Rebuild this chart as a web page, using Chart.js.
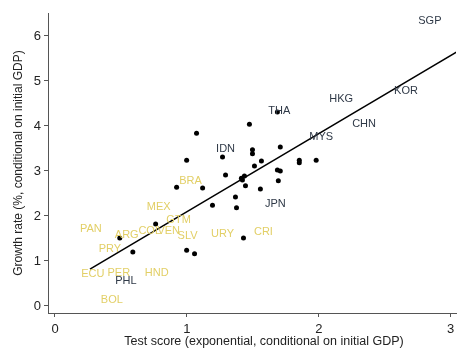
<!DOCTYPE html>
<html>
<head>
<meta charset="utf-8">
<script src="https://cdn.jsdelivr.net/npm/chart.js@4"></script>
<style>
  body { margin: 0; background: #fff; }
  canvas { display: block; }
</style>
</head>
<body>
<canvas id="chart" width="460" height="361"></canvas>
<script>
// unlabeled countries (black dots)
const dotX = [1.686, 1.474, 1.073, 0.998, 1.270, 1.497, 1.497, 1.708, 1.565, 1.512, 1.852, 1.852, 1.980,
  1.293, 1.413, 1.436, 1.421, 1.686, 1.708, 1.693, 1.444, 1.557, 0.922, 1.119, 1.368, 1.194, 1.376,
  1.429, 0.763, 0.491, 0.590, 0.998, 1.058];
const dotY = [4.31, 4.04, 3.84, 3.24, 3.31, 3.47, 3.38, 3.53, 3.22, 3.11, 3.24, 3.18, 3.24,
  2.91, 2.84, 2.89, 2.80, 3.02, 3.00, 2.78, 2.67, 2.60, 2.64, 2.62, 2.42, 2.24, 2.18,
  1.51, 1.82, 1.51, 1.20, 1.24, 1.16];

// labeled countries
const asiaCodes = ["SGP", "KOR", "HKG", "CHN", "MYS", "THA", "IDN", "JPN", "PHL"];
const asiaX = [2.842, 2.661, 2.169, 2.343, 2.018, 1.701, 1.293, 1.670, 0.537];
const asiaY = [6.33, 4.78, 4.60, 4.04, 3.76, 4.33, 3.49, 2.27, 0.56];

const latamCodes = ["BRA", "MEX", "GTM", "ARG", "COL", "VEN", "SLV", "URY", "CRI", "PAN", "PRY", "ECU", "PER", "HND", "BOL"];
const latamX = [1.028, 0.786, 0.937, 0.544, 0.718, 0.862, 1.005, 1.270, 1.580, 0.272, 0.416, 0.287, 0.484, 0.771, 0.431];
const latamY = [2.78, 2.20, 1.91, 1.58, 1.67, 1.67, 1.56, 1.60, 1.64, 1.71, 1.27, 0.71, 0.73, 0.73, 0.13];

// fitted line end points
const fitX = [0.265, 3.06];
const fitY = [0.82, 5.67];

const xTicks = [0, 1, 2, 3];
const yTicks = [0, 1, 2, 3, 4, 5, 6];

const xTitle = 'Test score (exponential, conditional on initial GDP)';
const yTitle = 'Growth rate (%, conditional on initial GDP)';

const FONT = 'Arial, "Liberation Sans", sans-serif';

const countryLabels = {
  id: 'countryLabels',
  afterDatasetsDraw(chart) {
    const ctx = chart.ctx;
    const xs = chart.scales.x, ys = chart.scales.y;
    const area = chart.chartArea;
    ctx.save();
    ctx.font = '11px ' + FONT;
    ctx.textAlign = 'center';
    ctx.textBaseline = 'middle';
    ctx.fillStyle = '#e2cf66';
    latamCodes.forEach((c, i) => ctx.fillText(c, xs.getPixelForValue(latamX[i]), ys.getPixelForValue(latamY[i])));
    ctx.fillStyle = '#2f3947';
    asiaCodes.forEach((c, i) => ctx.fillText(c, xs.getPixelForValue(asiaX[i]), ys.getPixelForValue(asiaY[i])));
    // x axis title (the original plot was wider, so it sits right of centre)
    ctx.font = '12.5px ' + FONT;
    ctx.fillStyle = '#222';
    ctx.fillText(xTitle, (area.left + area.right) / 2 + 12, area.bottom + 29);
    ctx.restore();
  }
};

new Chart(document.getElementById('chart'), {
  type: 'scatter',
  data: {
    datasets: [{
      data: dotX.map((x, i) => ({ x: x, y: dotY[i] })),
      backgroundColor: '#000',
      borderWidth: 0,
      pointRadius: 2.5
    }, {
      type: 'line',
      data: fitX.map((x, i) => ({ x: x, y: fitY[i] })),
      borderColor: '#000',
      borderWidth: 1.5,
      pointRadius: 0,
      fill: false
    }]
  },
  options: {
    responsive: false,
    animation: false,
    layout: { padding: { top: 13, right: 0, left: 0, bottom: 0 } },
    plugins: { legend: { display: false }, tooltip: { enabled: false } },
    scales: {
      x: {
        type: 'linear',
        min: -0.053,
        max: 3.04,
        afterBuildTicks: s => { s.ticks = xTicks.map(v => ({ value: v })); },
        afterFit: s => { s.height = 48; },
        grid: { drawOnChartArea: false, drawTicks: true, tickLength: 4, color: '#555' },
        border: { color: '#555', width: 1 },
        ticks: { color: '#222', font: { family: FONT, size: 13 }, maxRotation: 0, padding: 5 },
        title: { display: false }
      },
      y: {
        type: 'linear',
        min: -0.156,
        max: 6.51,
        afterBuildTicks: s => { s.ticks = yTicks.map(v => ({ value: v })); },
        afterFit: s => { s.width = 48; },
        grid: { drawOnChartArea: false, drawTicks: true, tickLength: 4, color: '#555' },
        border: { color: '#555', width: 1 },
        ticks: { color: '#222', font: { family: FONT, size: 13 }, padding: 3 },
        title: { display: true, text: yTitle, color: '#222', font: { family: FONT, size: 12 }, padding: { top: 11, bottom: 0 } }
      }
    }
  },
  plugins: [countryLabels]
});
</script>
</body>
</html>
